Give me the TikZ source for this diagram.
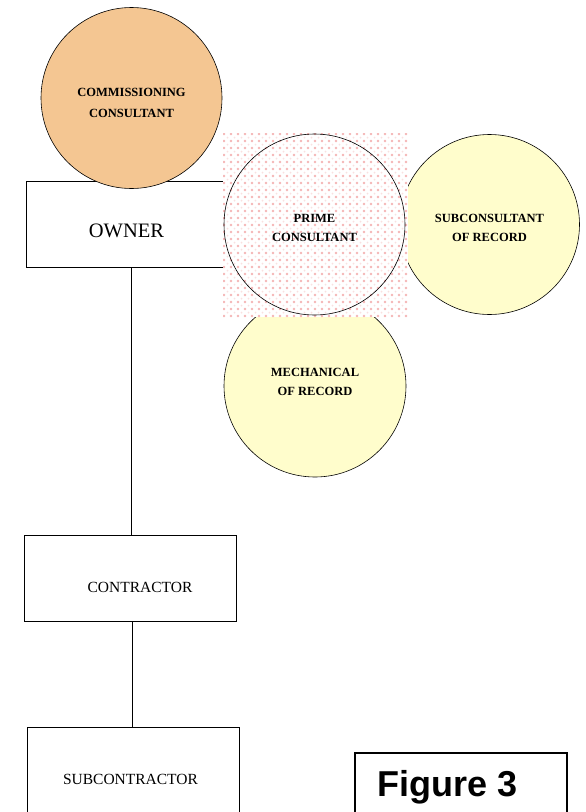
\documentclass[tikz,border=0pt]{standalone}
\usepackage{fontspec}
\setmainfont{Liberation Serif}
\newfontfamily\figfont{Liberation Sans}
\definecolor{tan}{HTML}{F4C692}
\definecolor{paleyellow}{HTML}{FFFDCC}
\definecolor{dotpink}{HTML}{F2A7A7}
\begin{document}
\begin{tikzpicture}
		[x=1pt,y=-1pt,
		party/.style={draw,line width=0.6pt,rectangle,minimum width=211pt,minimum height=86pt,inner sep=0pt},
		firm/.style={draw,line width=0.6pt,circle,inner sep=0pt},
		firmtext/.style={font=\fontsize{12.5}{19}\selectfont\bfseries,align=center},
		link/.style={line width=0.6pt}]
		\useasboundingbox (0,0) rectangle (586,812);

		% draw the owner and the commissioning consultant
		\node [party,minimum width=210pt,label={[xshift=-5pt,yshift=-6pt,font=\fontsize{20.5}{24}\selectfont]center:OWNER}] (owner) at (131.5,224.7) {};
		\node [firm,fill=tan,minimum size=181pt,label={[firmtext,yshift=-4.5pt,font=\fontsize{12.5}{21}\selectfont\bfseries]center:COMMISSIONING\\CONSULTANT}] (cx) at (131.5,98) {};

		% draw the consultants of record
		\node [firm,fill=paleyellow,minimum size=180pt,label={[firmtext,yshift=-3.5pt]center:SUBCONSULTANT\\OF RECORD}] (sub) at (489.5,224.5) {};
		\node [firm,fill=paleyellow,minimum size=182pt,label={[firmtext,yshift=4.5pt]center:MECHANICAL\\OF RECORD}] (mech) at (315,386) {};

		% dotted square behind the prime consultant
		\fill [white] (223,133) rectangle (408,317);
		\begin{scope}
			\clip (223,133) rectangle (408,317);
			\foreach \i in {0,...,27}
				\foreach \j in {0,...,27} {
					\fill [dotpink!85] (224+7*\i,134+7*\j) circle (1.3pt);
					\fill [dotpink!35] (227.5+7*\i,137.5+7*\j) circle (1pt);
				}
		\end{scope}
		\node [firm,minimum size=181pt,label={[firmtext,yshift=-3.5pt]center:PRIME\\CONSULTANT}] (prime) at (314.5,224.5) {};

		% draw the contractors
		\node [party,minimum width=212pt,label={[xshift=10pt,yshift=-9pt,font=\fontsize{15.5}{18}\selectfont]center:CONTRACTOR}] (con) at (130,578) {};
		\node [party,minimum width=212pt,label={[xshift=-2.5pt,yshift=-9pt,font=\fontsize{15.5}{18}\selectfont]center:SUBCONTRACTOR}] (subcon) at (133,770) {};
		\draw [link] (owner.south) -- (owner.south |- con.north);
		\draw [link] (subcon.north -| 132,0) -- (132,0 |- con.south);

		% figure caption
		\node [draw,line width=1.3pt,rectangle,minimum width=212pt,minimum height=66pt,inner sep=0pt,label={[xshift=-13pt,yshift=-1.5pt,font=\figfont\fontsize{36}{40}\selectfont\bfseries]center:Figure 3}] (caption) at (461,786) {};
	\end{tikzpicture}
\end{document}
